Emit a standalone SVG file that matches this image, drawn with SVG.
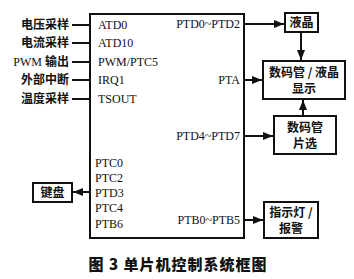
<svg xmlns="http://www.w3.org/2000/svg" width="354" height="279" viewBox="0 0 354 279">
<defs>
<style>
.lat{font-family:"Liberation Serif","Times New Roman",serif;font-size:12px;fill:#111}
.cn{font-family:"Noto Sans CJK SC","Noto Sans",sans-serif;font-size:12px;font-weight:bold;fill:#111}
.box{fill:#fff;stroke:#111;stroke-width:2}
.ln{stroke:#111;stroke-width:2;fill:none}
.cap{font-family:"Noto Sans CJK SC","Noto Sans",sans-serif;font-size:15px;font-weight:900;fill:#111;letter-spacing:1px}
</style>
<marker id="ah" viewBox="0 0 10 10" refX="10" refY="5" markerWidth="5.5" markerHeight="5" orient="auto" markerUnits="strokeWidth">
<path d="M0,1 L10,5 L0,9 z" fill="#111"/>
</marker>
</defs>
<rect width="354" height="279" fill="#fff"/>

<g id="mcu">
<rect class="box" x="90" y="14" width="154" height="224"/>
<text class="lat" x="98" y="29">ATD0</text>
<text class="lat" x="98" y="47">ATD10</text>
<text class="lat" x="98" y="66">PWM/PTC5</text>
<text class="lat" x="98" y="84">IRQ1</text>
<text class="lat" x="98" y="103">TSOUT</text>
<text class="lat" x="95" y="167">PTC0</text>
<text class="lat" x="95" y="182">PTC2</text>
<text class="lat" x="95" y="197">PTD3</text>
<text class="lat" x="95" y="212">PTC4</text>
<text class="lat" x="95" y="228">PTB6</text>
<text class="lat" x="240" y="28" text-anchor="end">PTD0~PTD2</text>
<text class="lat" x="240" y="84" text-anchor="end">PTA</text>
<text class="lat" x="240" y="140" text-anchor="end">PTD4~PTD7</text>
<text class="lat" x="240" y="224" text-anchor="end">PTB0~PTB5</text>
</g>

<g id="inputs">
<text class="cn" x="69" y="29" text-anchor="end">电压采样</text>
<text class="cn" x="69" y="47" text-anchor="end">电流采样</text>
<text class="cn" x="69" y="66" text-anchor="end"><tspan font-family="Liberation Serif, serif" font-weight="normal" font-size="12">PWM </tspan>输出</text>
<text class="cn" x="69" y="84" text-anchor="end">外部中断</text>
<text class="cn" x="69" y="103" text-anchor="end">温度采样</text>
</g>

<g id="lcd">
<rect class="box" x="285" y="13" width="33" height="19"/>
<text class="cn" x="301.5" y="27" text-anchor="middle">液晶</text>
</g>

<g id="display">
<rect class="box" x="263" y="61" width="82" height="38"/>
<text class="cn" x="304" y="77" text-anchor="middle">数码管 / 液晶</text>
<text class="cn" x="304" y="93" text-anchor="middle">显示</text>
</g>

<g id="select">
<rect class="box" x="274" y="116" width="62" height="38"/>
<text class="cn" x="305" y="132" text-anchor="middle">数码管</text>
<text class="cn" x="305" y="148" text-anchor="middle">片选</text>
</g>

<g id="alarm">
<rect class="box" x="264" y="202" width="54" height="36"/>
<text class="cn" x="291" y="217" text-anchor="middle">指示灯 /</text>
<text class="cn" x="291" y="233" text-anchor="middle">报警</text>
</g>

<g id="keyboard">
<rect class="box" x="33" y="183" width="39" height="19"/>
<text class="cn" x="52.5" y="197" text-anchor="middle">键盘</text>
</g>

<g id="connectors">
<line class="ln" x1="72" y1="25" x2="90" y2="25"/>
<line class="ln" x1="72" y1="43" x2="90" y2="43"/>
<line class="ln" x1="72" y1="62" x2="90" y2="62" stroke-width="1.5"/>
<line class="ln" x1="72" y1="80" x2="90" y2="80"/>
<line class="ln" x1="72" y1="99" x2="90" y2="99"/>
<line class="ln" x1="90" y1="192" x2="73" y2="192" marker-end="url(#ah)"/>
<line class="ln" x1="244" y1="24" x2="284" y2="24" marker-end="url(#ah)"/>
<line class="ln" x1="301" y1="32" x2="301" y2="60" marker-end="url(#ah)"/>
<line class="ln" x1="244" y1="80" x2="262" y2="80" marker-end="url(#ah)"/>
<line class="ln" x1="303" y1="116" x2="303" y2="100" marker-end="url(#ah)"/>
<line class="ln" x1="244" y1="136" x2="273" y2="136" marker-end="url(#ah)"/>
<line class="ln" x1="244" y1="220" x2="263" y2="220" marker-end="url(#ah)"/>
</g>

<text class="cap" x="178" y="270" text-anchor="middle">图 3  单片机控制系统框图</text>
</svg>
